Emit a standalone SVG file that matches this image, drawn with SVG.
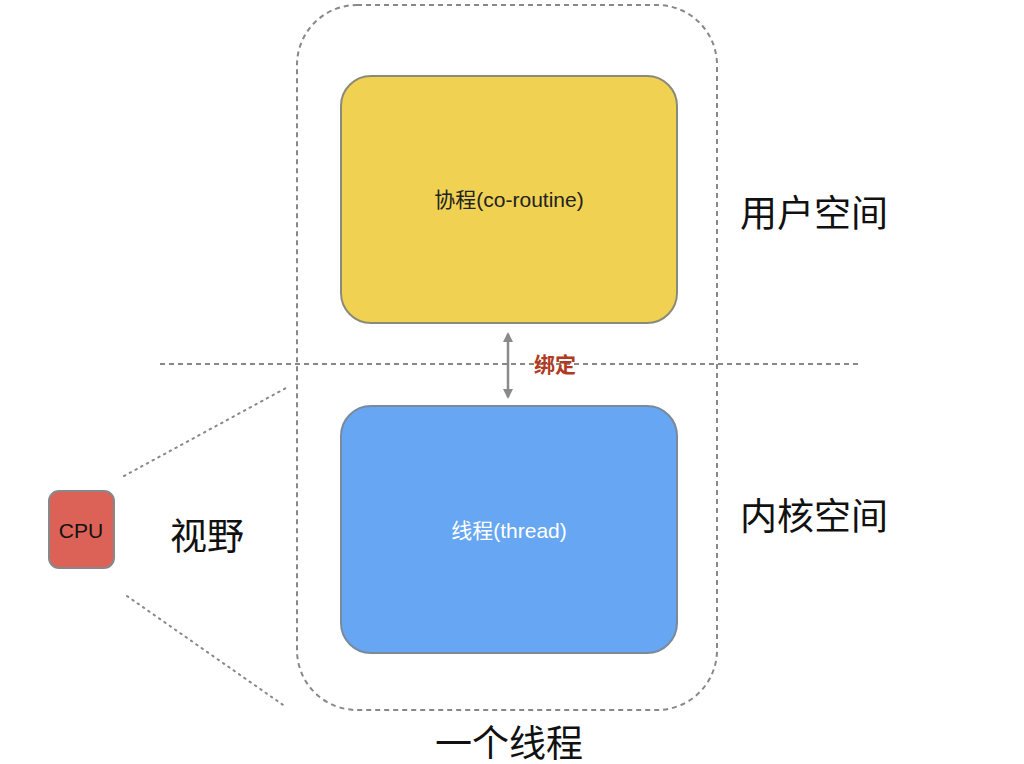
<svg xmlns="http://www.w3.org/2000/svg" width="1024" height="764" viewBox="0 0 1024 764">
<defs>
<style>
.t{font-family:"Liberation Sans","Noto Sans CJK SC",sans-serif}
.dash{fill:none;stroke:#888;stroke-width:2;stroke-dasharray:5 4}
.dot{fill:none;stroke:#888;stroke-width:2;stroke-dasharray:1.5 5;stroke-linecap:round}
</style>
<marker id="ah" viewBox="0 0 10 10" refX="8" refY="5" markerWidth="4" markerHeight="4" orient="auto-start-reverse"><path d="M0,0L10,5L0,10z" fill="#8a8a8a"/></marker>
</defs>
<rect width="1024" height="764" fill="#fff"/>
<g id="thread-boundary"><rect x="297" y="5" width="420" height="705" rx="60" class="dash"/></g>
<g id="connectors">
<line x1="160" y1="364" x2="860" y2="364" class="dash"/>
<line x1="124" y1="476" x2="286" y2="388" class="dot"/>
<line x1="127" y1="596" x2="286" y2="707" class="dot"/>
<line x1="508" y1="334" x2="508" y2="397" stroke="#8a8a8a" stroke-width="2.5" marker-start="url(#ah)" marker-end="url(#ah)"/>
</g>
<g id="coroutine"><rect x="341" y="76" width="336" height="247" rx="30" fill="#f0d152" stroke="#8a8a7a" stroke-width="2"/>
<text x="509" y="207" class="t" font-size="21" text-anchor="middle" fill="#222">协程(co-routine)</text></g>
<g id="thread"><rect x="341" y="406" width="336" height="247" rx="30" fill="#66a6f2" stroke="#7a8a9a" stroke-width="2"/>
<text x="509" y="538" class="t" font-size="21" text-anchor="middle" fill="#fff">线程(thread)</text></g>
<g id="cpu"><rect x="49" y="491" width="65" height="77" rx="10" fill="#dc6258" stroke="#888" stroke-width="2"/>
<text x="81" y="538" class="t" font-size="21" text-anchor="middle" fill="#111">CPU</text></g>
<g id="labels" class="t" fill="#111">
<text x="555" y="372" font-size="21" font-weight="bold" fill="#b03a22" text-anchor="middle">绑定</text>
<text x="814" y="227" font-size="37" text-anchor="middle">用户空间</text>
<text x="814" y="530" font-size="37" text-anchor="middle">内核空间</text>
<text x="207" y="550" font-size="37" text-anchor="middle">视野</text>
<text x="509" y="757" font-size="37" text-anchor="middle">一个线程</text>
</g>
</svg>
